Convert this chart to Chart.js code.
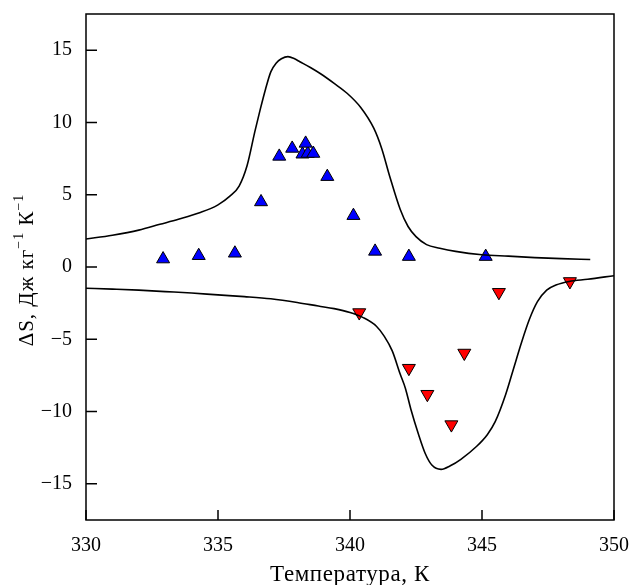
<!DOCTYPE html>
<html>
<head>
<meta charset="utf-8">
<script src="https://cdn.jsdelivr.net/npm/chart.js@4.4.1/dist/chart.umd.min.js"></script>
<style>
  html, body { margin: 0; padding: 0; background: #fff; }
  canvas { display: block; }
</style>
</head>
<body>
<canvas id="chart" width="631" height="585"></canvas>
<script>
/* ---------- data ---------- */
// measured points, heating (up triangles)
const upT = [332.92, 334.27, 335.64, 336.63, 337.32, 337.81, 338.2, 338.4, 338.61, 338.32, 339.14, 340.13, 340.95, 342.23, 345.14];
const upS = [0.55, 0.78, 0.95, 4.5, 7.65, 8.2, 7.8, 7.85, 7.85, 8.55, 6.25, 3.55, 1.08, 0.72, 0.72];

// measured points, cooling (down triangles)
const downT = [340.35, 342.23, 342.93, 343.84, 344.33, 345.64, 348.33];
const downS = [-3.15, -7.0, -8.8, -10.9, -5.95, -1.75, -1.0];

// upper calculated curve
const upperT = [330, 331, 332, 332.8, 333.5, 334.3, 335, 335.45, 335.8, 336.1, 336.4, 336.6, 336.8, 337, 337.2, 337.4, 337.65, 337.9, 338.1, 338.5, 338.9, 339.4, 339.9, 340.4, 340.9, 341.2, 341.5, 341.9, 342.2, 342.5, 342.9, 343.4, 344, 345, 346, 347, 348, 349.1];
const upperS = [1.94, 2.2, 2.55, 2.95, 3.3, 3.75, 4.3, 4.9, 5.6, 7.0, 9.4, 10.9, 12.3, 13.5, 14.1, 14.4, 14.55, 14.4, 14.2, 13.8, 13.35, 12.7, 12.0, 11.05, 9.6, 8.2, 6.3, 4.0, 2.8, 2.1, 1.55, 1.3, 1.08, 0.85, 0.75, 0.65, 0.58, 0.52];

// lower calculated curve
const lowerT = [330, 331, 332, 333, 334, 335, 336, 337, 338, 338.8, 339.4, 340, 340.5, 341, 341.3, 341.6, 341.9, 342.1, 342.3, 342.6, 342.85, 343.1, 343.45, 343.8, 344.2, 344.8, 345.2, 345.5, 345.9, 346.2, 346.5, 346.8, 347.1, 347.45, 347.8, 348.3, 349, 350];
const lowerS = [-1.47, -1.53, -1.6, -1.7, -1.8, -1.93, -2.05, -2.2, -2.45, -2.7, -2.88, -3.15, -3.5, -4.1, -4.8, -5.8, -7.4, -8.4, -9.8, -11.6, -12.9, -13.7, -14.0, -13.75, -13.3, -12.4, -11.6, -10.7, -8.8, -7.0, -5.2, -3.6, -2.4, -1.6, -1.25, -1.0, -0.85, -0.6];

const xTicks = [330, 335, 340, 345, 350];
const yTicks = [-15, -10, -5, 0, 5, 10, 15];
const xTitle = "Температура, К";

/* ---------- helpers ---------- */
const FONT = "'Liberation Serif', 'Times New Roman', serif";
const pts = (X, Y) => X.map((x, i) => ({ x: x, y: Y[i] }));
const minus = v => String(v).replace("-", "\u2212");

/* ---------- frame, inward ticks and axis titles ---------- */
const framePlugin = {
    id: "frame",
    afterDraw(chart) {
        const c = chart.ctx;
        const a = chart.chartArea;
        const xs = chart.scales.x, ys = chart.scales.y;
        c.save();
        c.strokeStyle = "#000";
        c.lineWidth = 1.5;
        c.strokeRect(a.left, a.top, a.right - a.left, a.bottom - a.top);

        c.beginPath();
        xTicks.forEach(v => {
            const p = xs.getPixelForValue(v);
            c.moveTo(p, a.bottom);
            c.lineTo(p, a.bottom - 10);
        });
        yTicks.forEach(v => {
            const p = ys.getPixelForValue(v);
            c.moveTo(a.left, p);
            c.lineTo(a.left + 11, p);
        });
        c.stroke();

        // x title
        c.fillStyle = "#000";
        c.font = "23px " + FONT;
        c.letterSpacing = "0.6px";
        c.textAlign = "center";
        c.textBaseline = "alphabetic";
        c.fillText(xTitle, (a.left + a.right) / 2, 581);

        // y title, drawn with real superscripts
        const parts = [
            { t: "\u0394S, Дж кг", sup: false },
            { t: "\u22121", sup: true },
            { t: " К", sup: false },
            { t: "\u22121", sup: true }
        ];
        c.letterSpacing = "1px";
        const fontOf = p => (p.sup ? "14px " : "21px ") + FONT;
        let total = 0;
        parts.forEach(p => { c.font = fontOf(p); total += c.measureText(p.t).width; });
        c.translate(33, 270);
        c.rotate(-Math.PI / 2);
        let x = -total / 2;
        c.textAlign = "left";
        parts.forEach(p => {
            c.font = fontOf(p);
            c.fillText(p.t, x, p.sup ? -10 : 0);
            x += c.measureText(p.t).width;
        });
        c.restore();
    }
};

/* ---------- chart ---------- */
new Chart(document.getElementById("chart").getContext("2d"), {
    type: "scatter",
    data: {
        datasets: [
            {
                data: pts(upperT, upperS),
                showLine: true,
                borderColor: "#000",
                borderWidth: 1.6,
                pointRadius: 0,
                cubicInterpolationMode: "monotone"
            },
            {
                data: pts(lowerT, lowerS),
                showLine: true,
                borderColor: "#000",
                borderWidth: 1.6,
                pointRadius: 0,
                cubicInterpolationMode: "monotone"
            },
            {
                data: pts(upT, upS),
                pointStyle: "triangle",
                pointRadius: 7.5,
                backgroundColor: "#0000ff",
                borderColor: "#000",
                borderWidth: 1
            },
            {
                data: pts(downT, downS),
                pointStyle: "triangle",
                rotation: 180,
                pointRadius: 7.5,
                backgroundColor: "#ff0000",
                borderColor: "#000",
                borderWidth: 1
            }
        ]
    },
    options: {
        responsive: false,
        animation: false,
        layout: { padding: { top: 14, right: 17, left: 0, bottom: 0 } },
        plugins: { legend: { display: false }, tooltip: { enabled: false } },
        scales: {
            x: {
                min: 330,
                max: 350,
                afterBuildTicks: s => { s.ticks = xTicks.map(v => ({ value: v })); },
                afterFit: s => { s.height = 65; s.paddingLeft = 0; s.paddingRight = 0; },
                grid: { display: false, drawTicks: false },
                border: { display: false },
                ticks: { color: "#000", padding: 14, font: { family: FONT, size: 20 }, callback: v => minus(v) }
            },
            y: {
                min: -17.5,
                max: 17.5,
                afterBuildTicks: s => { s.ticks = yTicks.map(v => ({ value: v })); },
                afterFit: s => { s.width = 86; s.paddingTop = 0; s.paddingBottom = 0; },
                grid: { display: false, drawTicks: false },
                border: { display: false },
                ticks: { color: "#000", padding: 14, font: { family: FONT, size: 20 }, callback: v => minus(v) }
            }
        }
    },
    plugins: [framePlugin]
});
</script>
</body>
</html>
